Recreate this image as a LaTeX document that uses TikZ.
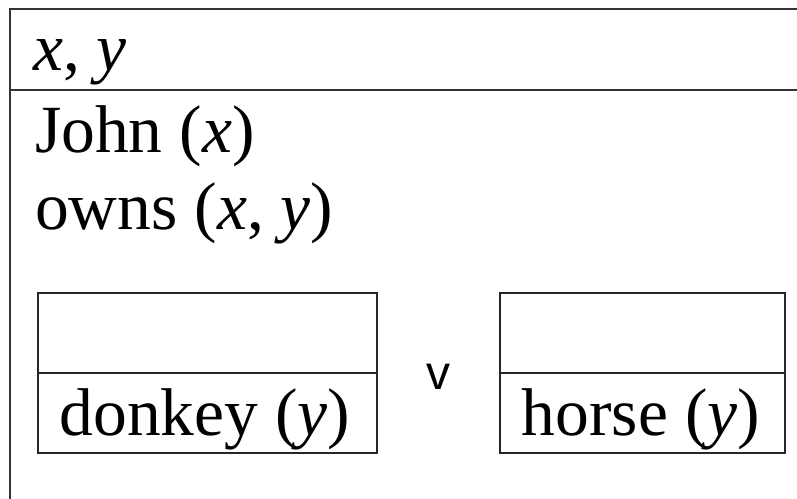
\documentclass[tikz,border=0pt]{standalone}
\usepackage{fontspec}
\setmainfont{Liberation Serif}
\newfontfamily\arialish{Liberation Sans}
\begin{document}
\begin{tikzpicture}[x=1pt,y=-1pt,
  frame/.style={draw=black!80,line width=2pt},
  subbox/.style={draw=black!85,line width=1.8pt,rectangle,minimum width=339pt,minimum height=160pt,inner sep=0pt},
  divider/.style={draw=black!85,line width=1.8pt},
  drstext/.style={font=\fontsize{67.5}{80}\selectfont,inner sep=0pt},
  orsym/.style={font=\arialish\fontsize{48}{52}\selectfont,inner sep=0pt}]
\useasboundingbox (0,0) rectangle (797,498);
\clip (0,0) rectangle (797,498);
% outer box: universe line, header rule, left side
\coordinate (tl) at (10,9);
\coordinate (tr) at (810,9);
\coordinate (hl) at (10,90);
\coordinate (hr) at (810,90);
\coordinate (bl) at (10,510);
\draw[frame] (tr) -- (tl) -- (bl);
\draw[frame] (hl) -- (hr);
% universe and conditions
\node[drstext,anchor=base west] (univ) at (33,70) {\textit{x}, \textit{y}};
\node[drstext,anchor=base west] (john) at (35,152) {John (\textit{x})};
\node[drstext,anchor=base west] (owns) at (35,229) {owns (\textit{x}, \textit{y})};
% two sub-boxes joined by disjunction
\node[subbox] (left) at (207.5,373) {};
\node[subbox,minimum width=285pt] (right) at (642.5,373) {};
\draw[divider] (left.west) -- (left.east);
\draw[divider] (right.west) -- (right.east);
\node[drstext,anchor=base] (donkey) at (205,435) {donkey (\textit{y})};
\node[drstext,anchor=base] (horse) at (641,435) {horse (\textit{y})};
\node[orsym] (or) at (438,377) {v};
\end{tikzpicture}
\end{document}
